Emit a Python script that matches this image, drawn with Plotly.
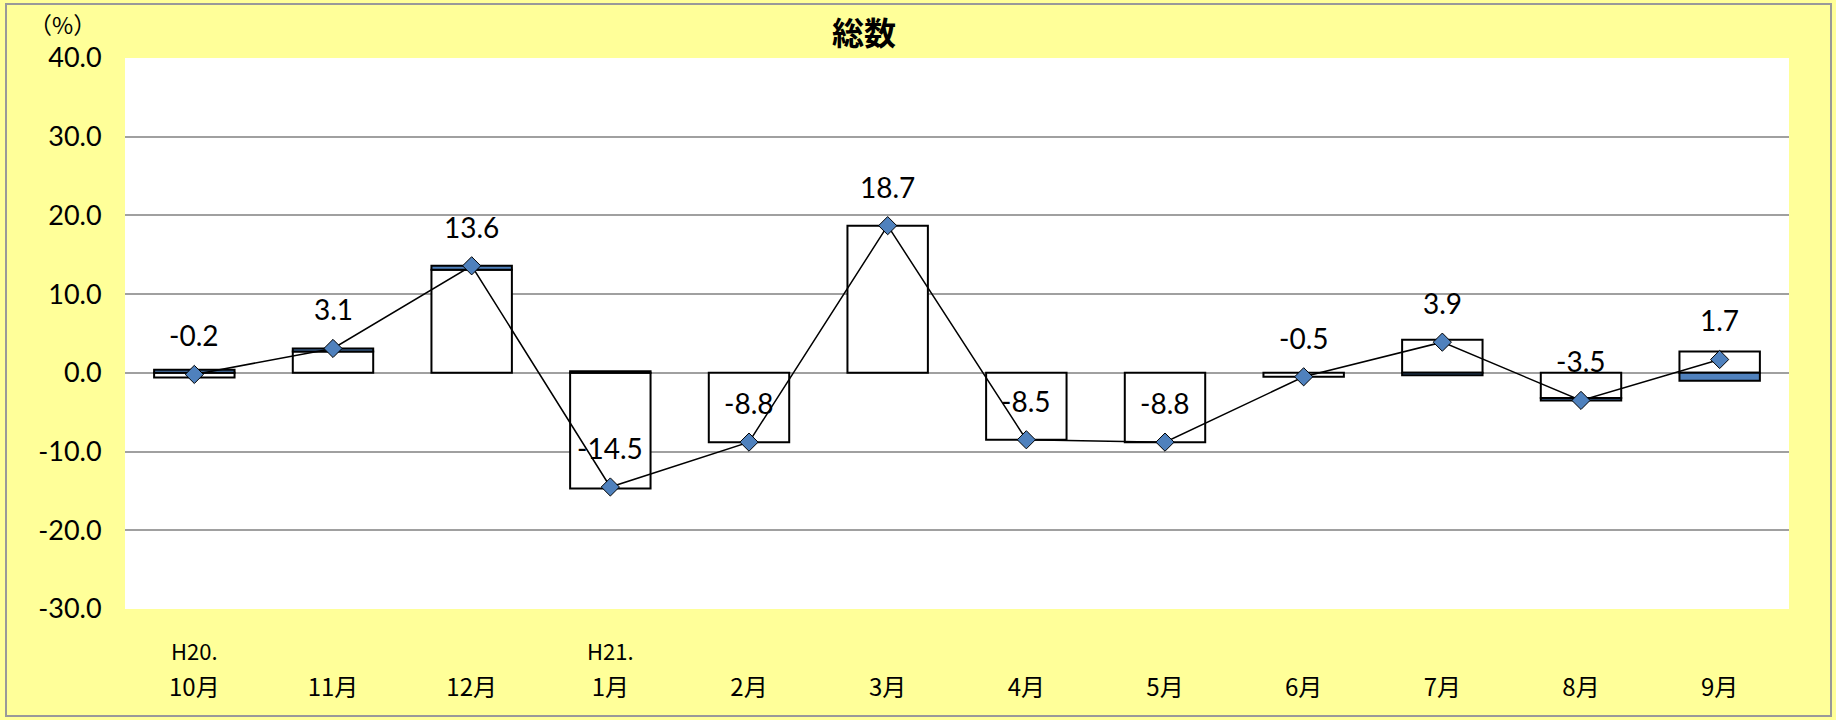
import plotly.graph_objects as go

months = ["10月", "11月", "12月", "1月", "2月", "3月", "4月", "5月", "6月", "7月", "8月", "9月"]
era_labels = {0: "H20.", 3: "H21."}
white_part = [-0.6, 2.7, 13.1, -14.7, -8.8, 18.7, -8.5, -8.8, -0.5, 4.2, -3.2, 2.7]
blue_part = [0.4, 0.4, 0.5, 0.2, None, None, None, None, None, -0.3, -0.3, -1.0]
total = [-0.2, 3.1, 13.6, -14.5, -8.8, 18.7, -8.5, -8.8, -0.5, 3.9, -3.5, 1.7]
y_ticks = [-30, -20, -10, 0, 10, 20, 30, 40]

x = list(range(len(months)))

fig = go.Figure()
fig.add_trace(go.Bar(x=x, y=white_part, marker=dict(color="white", line=dict(color="black", width=2)),
                     showlegend=False))
fig.add_trace(go.Bar(x=x, y=blue_part, marker=dict(color="#4F81BD", line=dict(color="black", width=2)),
                     showlegend=False))
fig.add_trace(go.Scatter(x=x, y=total, mode="lines+markers",
                         line=dict(color="black", width=1.5),
                         marker=dict(symbol="diamond", size=14, color="#4F81BD",
                                     line=dict(color="black", width=1)),
                         showlegend=False))

annotations = []
for i, v in enumerate(total):
    annotations.append(dict(x=i, y=v, xref="x", yref="y", text=f"{v:.1f}", showarrow=False,
                            yshift=39, font=dict(family="Lato", size=28, color="black")))
for i, t in era_labels.items():
    annotations.append(dict(x=i, y=0, xref="x", yref="paper", text=t, showarrow=False,
                            yshift=-41, yanchor="middle", xanchor="center",
                            font=dict(family="Noto Sans CJK JP", size=22, color="black")))
annotations.append(dict(x=(864 - 125) / 1664, y=1 + (58 - 31) / 551, xref="paper", yref="paper",
                        text="<b>総数</b>", showarrow=False, yanchor="middle", xanchor="center",
                        font=dict(family="Noto Sans CJK JP", size=32, color="black")))
annotations.append(dict(x=(62 - 125) / 1664, y=1 + (58 - 24) / 551, xref="paper", yref="paper",
                        text="（%）", showarrow=False, yanchor="middle", xanchor="center",
                        font=dict(family="Noto Sans CJK JP", size=23, color="black")))

fig.update_layout(
    width=1836, height=720,
    margin=dict(l=125, r=47, t=58, b=111),
    paper_bgcolor="#FFFF99", plot_bgcolor="white",
    barmode="relative", bargap=0.42,
    annotations=annotations,
    shapes=[dict(type="rect", xref="paper", yref="paper",
                 x0=(6 - 125) / 1664, x1=(1831 - 125) / 1664,
                 y0=-(716 - 609) / 551, y1=1 + (58 - 4) / 551,
                 line=dict(color="#999999", width=2), fillcolor="rgba(0,0,0,0)", layer="below")],
    xaxis=dict(tickmode="array", tickvals=x, ticktext=months, range=[-0.5, 11.5],
               showgrid=False, zeroline=False, showline=False,
               ticks="outside", ticklen=57, tickcolor="rgba(0,0,0,0)",
               tickfont=dict(family="Noto Sans CJK JP", size=24, color="black")),
    yaxis=dict(range=[-30, 40], tickmode="array", tickvals=y_ticks,
               ticktext=[f"{v:.1f}" for v in y_ticks],
               showgrid=True, gridcolor="#A0A0A0", gridwidth=2,
               zeroline=True, zerolinecolor="#A0A0A0", zerolinewidth=2,
               showline=False, ticks="outside", ticklen=17, tickcolor="rgba(0,0,0,0)",
               tickfont=dict(family="Lato", size=27, color="black")),
)

fig.write_html("out.html")
